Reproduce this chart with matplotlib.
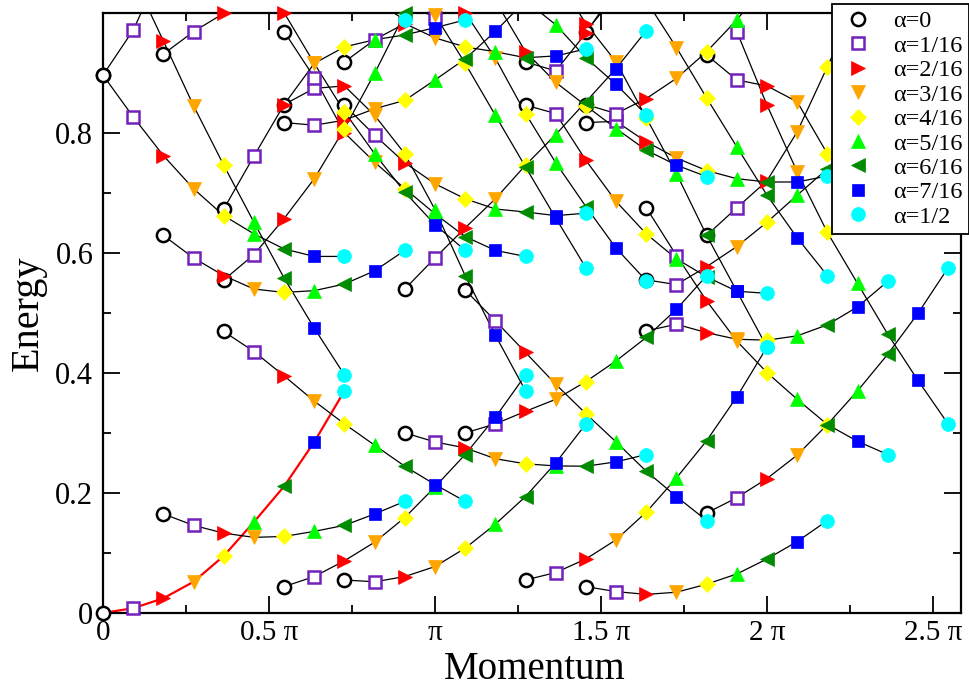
import numpy as np
import matplotlib
matplotlib.use("Agg")
import matplotlib.pyplot as plt
from matplotlib.lines import Line2D
from matplotlib.ticker import MultipleLocator, FixedLocator, FixedFormatter

plt.rcParams['font.family'] = ['Liberation Serif', 'DejaVu Serif']

nan = np.nan

# ── data ──────────────────────────────────────────────────────────────────────
# momentum index k (units of pi/11); series alpha = m/16 sits at k = k0 + m
alpha_labels = ["α=0", "α=1/16", "α=2/16", "α=3/16", "α=4/16",
                "α=5/16", "α=6/16", "α=7/16", "α=1/2"]

# energy along each flow, alpha = 0 .. 1/2 (values > 1 run off the top)
flows_k0_0 = [[0.000, 0.008, 0.0245, 0.052, 0.095, 0.1515, 0.211, 0.285, 0.370],
              [0.896, 0.971, 1.08, nan, nan, nan, nan, nan, nan],
              [0.896, 0.8265, 0.762, 0.7068, 0.662, 0.6316, 0.6065, 0.594, 0.594],
              [1.17, 1.06, 0.953, 0.845, 0.746, 0.651, 0.558, 0.4745, 0.3965]]
flows_k0_2 = [[0.165, 0.146, 0.133, 0.126, 0.1275, 0.136, 0.146, 0.165, 0.186],
              [0.629, 0.5915, 0.562, 0.5397, 0.534, 0.537, 0.548, 0.570, 0.604],
              [0.931, 0.9685, 0.999, 1.03, 1.05, 1.05, 1.04, 1.02, 0.988]]
flows_k0_4 = [[0.469, 0.4356, 0.395, 0.353, 0.315, 0.2795, 0.2445, 0.214, 0.186],
              [0.5547, 0.597, 0.657, 0.7235, 0.807, 0.899, 0.999, 1.09, nan],
              [0.673, 0.761, 0.847, 0.9156, 0.943, 0.955, 0.963, 0.975, 0.988],
              [nan, 1.09, 1.0, 0.9156, 0.835, 0.765, 0.701, 0.647, 0.604]]
flows_k0_6 = [[0.044, 0.0607, 0.087, 0.118, 0.159, 0.21, 0.264, 0.326, 0.3965],
              [0.847, 0.874, 0.878, 0.829, 0.765, 0.672, 0.562, 0.4628, 0.370],
              [0.9686, 0.892, 0.80, 0.751, 0.707, 0.665, 0.627, 0.604, 0.594],
              [0.817, 0.8126, 0.821, 0.840, 0.854, 0.888, 0.923, 0.969, 1.02]]
flows_k0_8 = [[0.055, 0.052, 0.0607, 0.0774, 0.108, 0.148, 0.194, 0.250, 0.315],
              [0.846, 0.796, 0.750, 0.715, 0.690, 0.673, 0.668, 0.662, 0.666],
              [nan, nan, 1.08, 0.996, 0.9156, 0.829, 0.743, 0.658, 0.575],
              [0.918, 0.955, 0.982, 0.958, 0.943, 0.935, 0.925, 0.928, 0.9396]]
flows_k0_10 = [[0.300, 0.285, 0.275, 0.257, 0.2485, 0.245, 0.2445, 0.2518, 0.264],
               [0.5397, 0.5915, 0.6416, 0.690, 0.746, 0.797, 0.8516, 0.907, 0.970],
               [nan, 1.08, 1.0, 0.924, 0.832, 0.750, 0.677, 0.6077, 0.5536],
               [1.02, 0.991, 1.02, 1.03, 1.02, 0.98, 0.925, 0.8805, 0.830]]
flows_k0_12 = [[0.300, 0.315, 0.336, 0.356, 0.3855, 0.420, 0.459, 0.506, 0.562],
               [0.538, 0.4867, 0.434, 0.381, 0.332, 0.285, 0.236, 0.194, 0.154],
               [1.1, 1.02, 0.935, 0.884, 0.845, 0.807, 0.771, 0.746, 0.727]]
flows_k0_14 = [[0.055, 0.0674, 0.090, 0.122, 0.168, 0.225, 0.287, 0.360, 0.443],
               [0.846, 0.832, 0.754, 0.6856, 0.6316, 0.59, 0.56, 0.536, 0.5325],
               [0.918, 0.903, 0.966, 1.04, nan, nan, nan, nan, nan],
               [nan, 1.06, 0.982, 0.918, 0.825, 0.732, 0.629, 0.536, 0.443]]
flows_k0_16 = [[0.044, 0.0356, 0.031, 0.0346, 0.048, 0.065, 0.090, 0.119, 0.154],
               [0.817, 0.819, 0.785, 0.758, 0.737, 0.7235, 0.718, 0.718, 0.728],
               [nan, 1.1, 1.02, 0.942, 0.858, 0.7765, 0.696, 0.625, 0.562],
               [0.847, 0.832, 0.857, 0.8906, 0.935, 0.988, 1.05, nan, nan],
               [0.9686, 1.03, nan, nan, nan, nan, nan, nan, nan]]
flows_k0_18 = [[0.470, 0.481, 0.467, 0.456, 0.4545, 0.4617, 0.480, 0.510, 0.5525],
               [0.675, 0.5955, 0.520, 0.453, 0.4005, 0.356, 0.314, 0.286, 0.264],
               [0.555, 0.547, 0.577, 0.6104, 0.651, 0.696, 0.740, 0.785, 0.83]]
flows_k0_20 = [[0.1666, 0.192, 0.224, 0.263, 0.314, 0.370, 0.431, 0.499, 0.575],
               [0.629, 0.675, 0.72, 0.8015, 0.910, 1.02, nan, nan, nan],
               [nan, 0.9686, 0.846, 0.735, 0.634, 0.549, 0.4645, 0.3876, 0.315],
               [0.9296, 0.888, 0.878, 0.8516, 0.765, 0.70, 0.66, nan, nan]]

all_flows = {0: flows_k0_0, 2: flows_k0_2, 4: flows_k0_4, 6: flows_k0_6,
             8: flows_k0_8, 10: flows_k0_10, 12: flows_k0_12, 14: flows_k0_14,
             16: flows_k0_16, 18: flows_k0_18, 20: flows_k0_20}

# marker style per alpha
styles = [dict(marker='o', mfc='white', mec='black', ms=9.5, mew=1.8),
          dict(marker='s', mfc='white', mec='#7221bc', ms=9, mew=1.8),
          dict(marker='>', mfc='#ff0000', mec='#ff0000', ms=10.5, mew=0.5),
          dict(marker='v', mfc='#ffa500', mec='#ffa500', ms=10.5, mew=0.5),
          dict(marker='D', mfc='#ffff00', mec='#ffff00', ms=8.5, mew=0.5),
          dict(marker='^', mfc='#00ff00', mec='#00ff00', ms=10.5, mew=0.5),
          dict(marker='<', mfc='#008b00', mec='#008b00', ms=10.5, mew=0.5),
          dict(marker='s', mfc='#0000ff', mec='#0000ff', ms=9, mew=0.5),
          dict(marker='o', mfc='#00ffff', mec='#00ffff', ms=10, mew=0.5)]

# ── plot ─────────────────────────────────────────────────────────────────────
fig = plt.figure(figsize=(9.69, 6.88), dpi=100)
ax = fig.add_axes([103/969, 1 - 613/688, (961 - 103)/969, (613 - 12.7)/688])

m_idx = np.arange(9)
for k0, flows in all_flows.items():
    x = (k0 + m_idx) / 11.0
    for i, e in enumerate(flows):
        e = np.array(e, dtype=float)
        if k0 == 0 and i == 0:
            ax.plot(x, e, color='#ff0000', lw=1.6, zorder=2)
        else:
            ax.plot(x, e, color='black', lw=0.9, zorder=2)

for m in range(9):
    xs, ys = [], []
    for k0, flows in all_flows.items():
        for e in flows:
            if np.isfinite(e[m]) and e[m] <= 1.004:
                xs.append((k0 + m) / 11.0)
                ys.append(e[m])
    ax.plot(xs, ys, ls='none', clip_on=False, zorder=3 + m, **styles[m])

ax.set_xlim(0, (961 - 103) / 332.0)
ax.set_ylim(0, 1.0)

ax.xaxis.set_major_locator(FixedLocator([0, 0.5, 1, 1.5, 2, 2.5]))
ax.xaxis.set_major_formatter(FixedFormatter(["0", "0.5 π", "π", "1.5 π", "2 π", "2.5 π"]))
ax.xaxis.set_minor_locator(MultipleLocator(0.25))
ax.yaxis.set_major_locator(FixedLocator([0, 0.2, 0.4, 0.6, 0.8]))
ax.yaxis.set_major_formatter(FixedFormatter(["0", "0.2", "0.4", "0.6", "0.8"]))
ax.yaxis.set_minor_locator(MultipleLocator(0.1))

ax.tick_params(which='both', direction='in', top=True, right=True, width=1.3)
ax.tick_params(which='major', length=12)
ax.tick_params(axis='x', which='major', pad=5, labelsize=21)
ax.tick_params(axis='y', which='major', pad=7, labelsize=22)
ax.tick_params(which='minor', length=6)
for sp in ax.spines.values():
    sp.set_linewidth(1.6)

ax.set_xlabel("Momentum", fontsize=28, va='baseline')
ax.xaxis.set_label_coords(0.5035, -(679 - 613) / 600.3)
ax.set_ylabel("Energy", fontsize=29, labelpad=6)

handles = [Line2D([], [], ls='none', **styles[m]) for m in range(9)]
leg = fig.legend(handles, alpha_labels, loc='upper left',
                 bbox_to_anchor=(832/969, 1 - 4/688), fontsize=17.5,
                 frameon=True, fancybox=False, framealpha=1, edgecolor='black',
                 labelspacing=0.1, handlelength=1.62, handletextpad=0.63,
                 borderpad=0.26, borderaxespad=0)
leg.get_frame().set_linewidth(1.3)
leg.set_zorder(20)

fig.savefig("out.png", dpi=100)
